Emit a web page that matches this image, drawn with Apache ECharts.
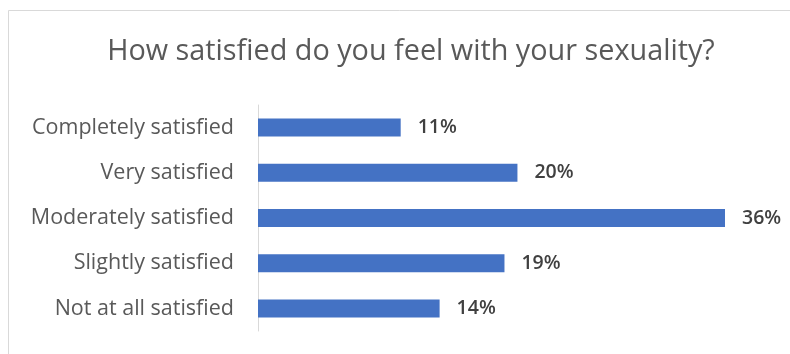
<!DOCTYPE html>
<html>
<head>
<meta charset="utf-8">
<script src="https://cdn.jsdelivr.net/npm/echarts@6/dist/echarts.min.js"></script>
<style>
  html, body { margin: 0; padding: 0; background: #ffffff; }
  #chart { width: 790px; height: 354px; }
</style>
</head>
<body>
<div id="chart"></div>
<script>
// Survey responses: share of respondents per satisfaction level (%)
const titleText = 'How satisfied do you feel with your sexuality?';
const categories = [
  'Completely satisfied',
  'Very satisfied',
  'Moderately satisfied',
  'Slightly satisfied',
  'Not at all satisfied'
];
const shares = [11, 20, 36, 19, 14];

const chart = echarts.init(document.getElementById('chart'), null, { renderer: 'canvas' });

chart.setOption({
  animation: false,
  backgroundColor: '#ffffff',
  title: {
    text: titleText,
    left: 406,
    textAlign: 'center',
    top: 32,
    textStyle: {
      fontFamily: 'Open Sans',
      fontSize: 28.8,
      fontWeight: 'normal',
      color: '#595959'
    }
  },
  graphic: [{
    type: 'rect',
    shape: { x: 8.5, y: 10.5, width: 900, height: 500 },
    style: { fill: 'none', stroke: '#d9d9d9', lineWidth: 1 },
    silent: true
  }],
  grid: { left: 258, right: 65, top: 105, bottom: 23, containLabel: false },
  xAxis: {
    type: 'value',
    min: 0,
    max: 36,
    show: false
  },
  yAxis: {
    type: 'category',
    data: categories,
    inverse: true,
    axisLine: { show: true, lineStyle: { color: '#d9d9d9', width: 1 } },
    axisTick: { show: false },
    axisLabel: {
      margin: 24,
      fontFamily: 'Open Sans',
      fontSize: 21.5,
      color: '#595959'
    }
  },
  series: [{
    type: 'bar',
    data: shares,
    barWidth: 18,
    itemStyle: { color: '#4472c4' },
    label: {
      show: true,
      position: 'right',
      distance: 17,
      formatter: p => p.value + '%',
      fontFamily: 'Open Sans',
      fontSize: 19.5,
      fontWeight: 600,
      color: '#404040'
    }
  }]
});
</script>
</body>
</html>
